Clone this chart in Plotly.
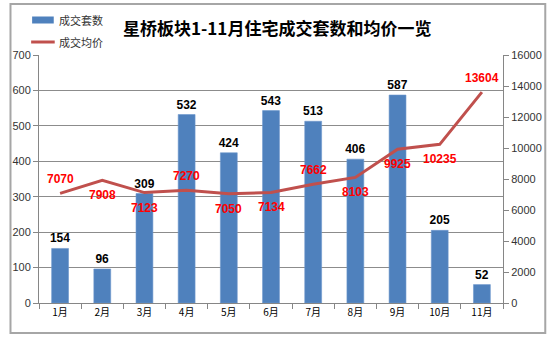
import plotly.graph_objects as go

months = ["1月", "2月", "3月", "4月", "5月", "6月", "7月", "8月", "9月", "10月", "11月"]
units = [154, 96, 309, 532, 424, 543, 513, 406, 587, 205, 52]
prices = [7070, 7908, 7123, 7270, 7050, 7134, 7662, 8103, 9925, 10235, 13604]
price_above = [True, False, False, True, False, False, True, False, False, False, True]
left_ticks = [0, 100, 200, 300, 400, 500, 600, 700]
right_ticks = [0, 2000, 4000, 6000, 8000, 10000, 12000, 14000, 16000]

BLUE = "#4F81BD"
RED = "#C0504D"
CJK = "Noto Sans CJK SC"
LAT = "Liberation Sans"

fig = go.Figure()
fig.add_trace(go.Bar(
    x=months, y=units, name="成交套数", marker=dict(color=BLUE, line=dict(width=0.6, color="#6d97cc")),
    text=["<b>%d</b>" % v for v in units], textposition="outside",
    textfont=dict(family=LAT, size=12, color="#000000"), cliponaxis=False,
    constraintext="none", width=0.4,
))
fig.add_trace(go.Scatter(
    x=months, y=prices, name="成交均价", yaxis="y2", mode="lines",
    line=dict(color=RED, width=3), cliponaxis=False,
))
for m, p, up in zip(months, prices, price_above):
    fig.add_annotation(
        x=m, y=p, xref="x", yref="y2", text="<b>%d</b>" % p, showarrow=False,
        yshift=14 if up else -15, font=dict(family=LAT, size=12, color="#FF0000"),
    )

fig.update_layout(
    width=554, height=337,
    margin=dict(l=33, r=49, t=55, b=34),
    paper_bgcolor="white", plot_bgcolor="white",
    showlegend=False,
    font=dict(family=LAT, size=11, color="#333333"),
    xaxis=dict(
        showline=True, linecolor="#868686", linewidth=1,
        ticks="outside", ticklen=5, tickcolor="#868686", tickson="boundaries",
        tickfont=dict(family=CJK, size=10, color="#000000"),
        showgrid=False,
    ),
    yaxis=dict(
        range=[0, 700], tickvals=left_ticks, showline=True, linecolor="#868686",
        ticks="outside", ticklen=5, tickcolor="#868686",
        gridcolor="#8c8c8c", gridwidth=1, zeroline=False,
        tickfont=dict(family=LAT, size=11, color="#333333"),
    ),
    yaxis2=dict(
        range=[0, 16000], tickvals=right_ticks, tickformat="d", overlaying="y", side="right",
        showline=True, linecolor="#868686", ticks="outside", ticklen=5, tickcolor="#868686",
        showgrid=False, zeroline=False,
        tickfont=dict(family=LAT, size=11, color="#333333"),
    ),
    bargap=0.6,
)

# Title
fig.add_annotation(
    text="<b>星桥板块1-11月住宅成交套数和均价一览</b>", xref="paper", yref="paper",
    x=(275 - 33) / 472, y=(303 - 28) / 248, xanchor="center", yanchor="middle",
    showarrow=False, font=dict(family=CJK, size=17, color="#000000"),
)

# Legend (manual)
fig.add_shape(type="rect", xref="paper", yref="paper",
              x0=(26 - 33) / 472, x1=(48 - 33) / 472,
              y0=(303 - 23.5) / 248, y1=(303 - 16.5) / 248,
              fillcolor=BLUE, line=dict(width=0))
fig.add_annotation(text="成交套数", xref="paper", yref="paper",
                   x=(51 - 33) / 472, y=(303 - 20) / 248, xanchor="left", yanchor="middle",
                   showarrow=False, font=dict(family=CJK, size=11, color="#333333"))
fig.add_shape(type="line", xref="paper", yref="paper",
              x0=(25 - 33) / 472, x1=(49 - 33) / 472,
              y0=(303 - 42) / 248, y1=(303 - 42) / 248,
              line=dict(color=RED, width=3))
fig.add_annotation(text="成交均价", xref="paper", yref="paper",
                   x=(51 - 33) / 472, y=(303 - 42) / 248, xanchor="left", yanchor="middle",
                   showarrow=False, font=dict(family=CJK, size=11, color="#333333"))

# Chart frame
fig.add_shape(type="rect", xref="paper", yref="paper",
              x0=(4 - 33) / 472, x1=(548 - 33) / 472,
              y0=(303 - 333) / 248, y1=(303 - 4) / 248,
              line=dict(color="#a6a6a6", width=2), fillcolor="rgba(0,0,0,0)", layer="below")

fig.write_html("out.html")
